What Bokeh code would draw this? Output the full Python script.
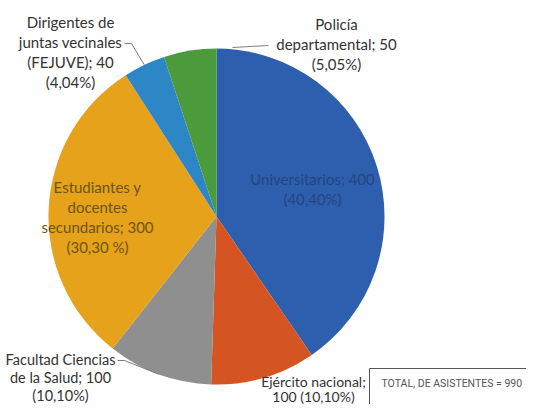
import math
from bokeh.plotting import figure
from bokeh.models import Range1d, ColumnDataSource
from bokeh.core.properties import value
from bokeh.embed import file_html
from bokeh.resources import INLINE

# ---- data ----
categories = ["Universitarios", "Ejército nacional", "Facultad Ciencias de la Salud",
              "Estudiantes y docentes secundarios",
              "Dirigentes de juntas vecinales (FEJUVE)", "Policía departamental"]
values = [400, 100, 100, 300, 40, 50]
percent_labels = ["(40,40%)", "(10,10%)", "(10,10%)", "(30,30 %)", "(4,04%)", "(5,05%)"]
total_label = "TOTAL, DE ASISTENTES = 990"

# label text lines (as in the original data labels)
label_lines = [
    ["Universitarios; " + str(values[0]), percent_labels[0]],
    ["Ejército nacional;", str(values[1]) + " " + percent_labels[1]],
    ["Facultad Ciencias", "de la Salud; " + str(values[2]), percent_labels[2]],
    ["Estudiantes y", "docentes", "secundarios; " + str(values[3]), percent_labels[3]],
    ["Dirigentes de", "juntas vecinales", "(FEJUVE); " + str(values[4]), percent_labels[4]],
    ["Policía", "departamental; " + str(values[5]), percent_labels[5]],
]

# ---- style / layout ----
colors = ["#2e5fae", "#d45522", "#8f8f8f", "#e5a21a", "#2d86c6", "#4b9a3c"]
text_colors = ["#24447e", "#333333", "#333333", "#6e5514", "#333333", "#333333"]
# label anchor (centre x, first line y) in pixels, line step and font size
label_pos = [(312, 178), (313, 381), (60, 359), (97, 186), (70, 21), (336, 23)]
label_step = [20, 15, 18, 20, 20, 20]
label_size = ["15px", "14px", "14.5px", "15px", "15px", "15px"]

W, H = 526, 404
def Y(ry):
    return H - ry

p = figure(width=W, height=H, x_range=Range1d(0, W), y_range=Range1d(0, H),
           output_backend="svg", toolbar_location=None, min_border=0,
           x_axis_location=None, y_axis_location=None)
p.grid.visible = False
p.outline_line_color = None
p.background_fill_color = "white"
p.border_fill_color = "white"

cx, cy, r = 216, Y(216), 168
tot = sum(values)
starts, ends = [], []
acc = 0
for v in values:
    starts.append(math.pi / 2 - 2 * math.pi * acc / tot)
    acc += v
    ends.append(math.pi / 2 - 2 * math.pi * acc / tot)

src = ColumnDataSource(dict(start=starts, end=ends, color=colors, cat=categories, val=values))
p.wedge(x=cx, y=cy, radius=r, start_angle="start", end_angle="end", direction="clock",
        fill_color="color", line_color=None, source=src)

# leader lines
def edge_point(i):
    mid = (starts[i] + ends[i]) / 2
    return cx + r * math.cos(mid), cy + r * math.sin(mid)

# FEJUVE
ex, ey = edge_point(4)
p.line([124, 131, ex], [Y(43), Y(43), ey], line_color="#7f7f7f", line_width=1)
# Facultad
ex, ey = edge_point(2)
p.line([117, 124, ex], [Y(360), Y(360), ey], line_color="#7f7f7f", line_width=1)
# Policia
p.line([268, 232], [Y(45), Y(47)], line_color="#7f7f7f", line_width=1)

# labels
xs, ys, ts, cs, fs = [], [], [], [], []
for i, lines in enumerate(label_lines):
    lx, ly = label_pos[i]
    for j, t in enumerate(lines):
        xs.append(lx)
        ys.append(Y(ly + j * label_step[i]))
        ts.append(t)
        cs.append(text_colors[i])
        fs.append(label_size[i])
lab = ColumnDataSource(dict(x=xs, y=ys, text=ts, color=cs, size=fs))
p.text(x="x", y="y", text="text", text_color="color", text_font=value("Lato"),
       text_font_size="size", text_align="center", text_baseline="middle", source=lab)

# total box
p.quad(left=[369], right=[600], top=[Y(368)], bottom=[Y(440)], fill_color=None,
       line_color="#555555", line_width=1)
p.text(x=[381], y=[Y(383)], text=[total_label], text_font=value("Roboto"),
       text_font_size="10.5px", text_color="#555555", text_align="left", text_baseline="middle")

open("out.html", "w").write(file_html(p, INLINE))
